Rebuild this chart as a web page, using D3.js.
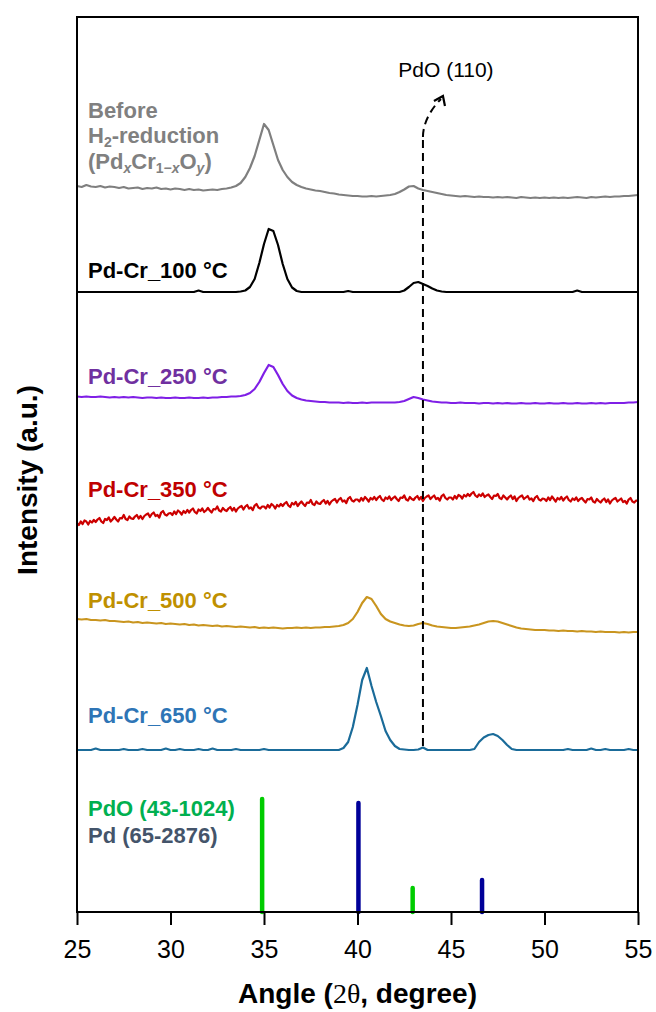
<!DOCTYPE html>
<html>
<head>
<meta charset="utf-8">
<script src="https://cdn.jsdelivr.net/npm/d3@7"></script>
<style>
  body { margin: 0; background: #fff; }
  svg { display: block; }
  text { font-family: Arial, "Liberation Sans", sans-serif; }
</style>
</head>
<body>
<svg id="chart" width="656" height="1012"></svg>
<script>
// 2θ sampling grids (degrees)
const angles = d3.range(0, 121).map(i => 25 + i * 0.25);
const anglesFine = d3.range(0, 301).map(i => 25 + i * 0.1);
const tickAngles = [25, 30, 35, 40, 45, 50, 55];

// Stacked XRD patterns (offset intensities, a.u.), one row per degree
const before = [
  726, 725, 727, 725.5,   725, 726, 724.5, 725.5,   725, 724, 725, 723.5,
  724, 724.5, 723, 724,   723.5, 724.5, 723, 723.5, 722.5, 723.5, 723, 722,
  723, 722, 722.5, 721.5, 722, 722.5, 722, 723,     723.5, 724.5, 726, 729,
  735, 744, 756, 772,     788, 782, 767, 752,       742, 735, 730, 727,
  725, 723.5, 722.5, 721.5, 721, 720, 719, 718.5,   717.5, 717, 716.5, 716,
  716, 715.5, 715.5, 716, 715.5, 716, 716.5, 717,   718, 720, 722.5, 725.5,
  726, 723.5, 722, 721,   720, 719, 718, 717,       716.5, 716, 715.5, 716,
  715.5, 715, 715.5, 715, 715, 714.5, 715, 714.5,   715, 714.5, 714, 715,
  714.5, 714, 714.5, 714, 714.5, 714, 714.5, 714,   714.5, 714, 714.5, 715,
  714.5, 714, 715, 714.5, 715, 715.5, 715, 715.5,   715.5, 716, 716, 716.5,
  717
];
const pdcr100 = [
  620, 620, 620, 620,     620, 620, 620, 620,       620, 620, 620, 620,
  620, 620, 620, 620,     620, 620, 620, 620,       620, 620, 620, 620,
  620, 620, 621.5, 620,   620, 620, 620, 620,       620, 620, 620, 620.5,
  621.5, 625, 633, 649,   668, 683, 681, 667,       648, 633, 624.5, 621,
  620, 620, 620, 620,     620, 620, 620, 620,       620, 620, 621, 620,
  620, 620, 620, 620,     620, 620, 620, 620,       620, 620, 621.5, 625,
  629, 630, 628, 626,     623.5, 621.5, 620.5, 620, 620, 620, 620, 620,
  620, 620, 620, 620,     620, 620, 620, 620,       620, 620, 620, 620,
  620, 620, 620, 620,     620, 620, 620, 620,       620, 620, 620, 621.5,
  620, 620, 620, 620,     620, 620, 620, 620,       620, 620, 620, 620,
  620
];
const pdcr250 = [
  515.5, 515, 515.5, 515, 515, 515.5, 515, 514.5,   515, 514.5, 515, 514.5,
  515, 514.5, 514, 514.5, 514.5, 514, 514.5, 514,   514, 514.5, 514, 514,
  514.5, 514, 514, 514.5, 514, 514.5, 514.5, 515,   515, 515.5, 515.5, 516,
  517, 519, 523, 530,     539, 547, 545, 537,       528, 521, 516.5, 514,
  512.5, 511.5, 511, 510.5, 510, 510, 509.5, 509.5, 509.5, 509, 509.5, 509,
  509, 509.5, 509, 509.5, 509.5, 509.5, 509.5, 509.5, 509.5, 510, 511, 513,
  515, 514, 512.5, 511.5, 510.5, 510, 509.5, 509.5, 509, 509, 509.5, 509,
  509, 509, 508.5, 509,   509, 508.5, 509, 508.5,   509, 508.5, 508.5, 509,
  508.5, 508.5, 509, 508.5, 508.5, 509, 508.5, 508.5, 509, 508.5, 508.5, 509,
  508.5, 508.5, 509, 508.5, 509, 508.5, 509, 509,   509, 509, 509.5, 509.5,
  510
];
const pdcr350 = [
  389, 387, 390.5, 388, 391.5, 390.5, 387.5, 391, 389.5, 392,
  390, 392.5, 394, 390.5, 389, 393, 392, 394.5, 390.5, 392.5,
  395, 392.5, 390.5, 394, 393.5, 397, 393, 392, 395.5, 393.5,
  393, 395.5, 397, 393.5, 396, 393, 396, 397.5, 398.5, 395,
  398, 399.5, 396, 397, 394.5, 399.5, 401, 397.5, 396.5, 398.5,
  399, 397, 400.5, 398, 401.5, 400, 397.5, 401, 399, 402,
  399.5, 402, 403.5, 400, 398.5, 402.5, 401, 403.5, 400, 401.5,
  404, 401.5, 399.5, 403, 402.5, 405.5, 401.5, 400.5, 404, 402,
  401, 403.5, 405, 401.5, 404, 400.5, 403.5, 405, 406, 402.5,
  405.5, 407, 403.5, 404.5, 402, 406.5, 408, 404.5, 403.5, 405.5,
  405.5, 403.5, 407, 404.5, 408, 406.5, 403.5, 407, 405.5, 408,
  406, 408.5, 410, 406.5, 405, 409, 407.5, 410, 406, 408.5,
  410.5, 408, 406, 409.5, 409, 412, 408, 407, 410.5, 408.5,
  408, 410.5, 412, 408.5, 411, 407.5, 410.5, 412, 413, 409.5,
  412.5, 414, 410.5, 411.5, 409, 413.5, 415, 411.5, 410.5, 412.5,
  412.5, 410.5, 414, 411.5, 415, 413, 410.5, 414, 412.5, 415,
  412, 414.5, 416, 412.5, 411, 414.5, 413, 415.5, 412, 414,
  415.5, 413, 411, 414.5, 414, 416.5, 412.5, 411.5, 415, 413,
  412, 414.5, 416, 412.5, 415, 411, 414, 415.5, 416.5, 413,
  415, 416.5, 413, 414, 411.5, 416, 417.5, 414, 412.5, 414.5,
  414.5, 412.5, 416, 413.5, 417, 416, 413.5, 417, 415.5, 418,
  416, 418.5, 420, 416.5, 415, 417.5, 416, 418.5, 415, 416.5,
  417.5, 415, 413, 416.5, 416, 418, 414, 413, 416.5, 414.5,
  412.5, 415, 416.5, 413, 415.5, 411, 414, 415.5, 416.5, 413,
  414.5, 416, 412.5, 413.5, 411, 414.5, 416, 412.5, 411.5, 413.5,
  413, 411, 414.5, 412, 415.5, 413, 410.5, 414, 412.5, 415,
  411.5, 414, 415.5, 412, 410.5, 413.5, 412, 414.5, 411, 413,
  414, 411.5, 409.5, 413, 412.5, 414.5, 410.5, 409.5, 413, 411,
  409.5, 412, 413.5, 410, 412.5, 408.5, 411.5, 413, 414, 410.5,
  412, 413.5, 410, 411, 408.5, 412.5, 414, 410.5, 409.5, 411.5,
  411
];
const pdcr500 = [
  293, 292.5, 293, 292,   292, 291.5, 292, 291,      291, 290.5, 290, 290.5,
  289.5, 290, 289, 289.5, 289, 288.5, 289, 288,     288.5, 288, 287.5, 288,
  287, 287.5, 286.5, 287, 286.5, 286, 286.5, 285.5, 286, 285.5, 285, 285.5,
  285, 284.5, 285, 284,   284.5, 284, 284.5, 284,    283.5, 284, 284, 284.5,
  284, 284.5, 284, 284.5, 284.5, 285, 285, 285.5,   286, 287, 289, 293,
  300, 309, 315, 313,     306, 298, 293, 290.5,      289, 287.5, 286.5, 286,
  286.5, 288, 289, 288,   286.5, 285.5, 285, 284.5,  284, 284, 284.5, 285,
  285.5, 286.5, 287.5, 289, 290.5, 291, 290.5, 289, 287.5, 286, 284.5, 283.5,
  283, 282.5, 282, 282,   282, 281.5, 281.5, 281,    281.5, 281, 281, 280.5,
  281, 280.5, 280.5, 280, 280.5, 280, 280, 280,      279.5, 280, 279.5, 280,
  280
];
const pdcr650 = [
  162, 162, 162, 162,     163.5, 162, 162, 162,      162, 162, 163, 162,
  162, 162, 163, 162,     162, 162, 162, 163.5,      162, 162, 163, 162,
  162, 162, 163, 162,     162, 163.5, 162, 162,      162, 162, 163, 162,
  162, 162, 162, 162,     163, 162, 162, 162,        162, 162, 162, 162,
  162, 162, 162, 162,     162, 162, 162, 162,        162, 164, 170, 185,
  207, 232, 244, 226,     210, 196, 181, 172,        166, 163, 162.5, 162,
  162, 162.5, 164.5, 162, 162, 162, 162, 162,        162, 162, 162, 162,
  162, 163, 170, 174.5,   177, 178, 176, 172,        167, 163, 162, 162,
  162, 162, 162, 162,     162, 162, 162, 162,        162, 163, 162, 162,
  162, 162, 163.5, 162,   162, 163, 162, 162,        162, 162, 163, 162,
  162
];

// Reference patterns (JCPDS cards): positions (2θ) and stick heights (a.u.)
const pdoRefAngles = [34.9, 42.95];
const pdoRefHeights = [113, 24];
const pdRefAngles = [40.05, 46.66];
const pdRefHeights = [109, 32];

// PdO (110) marker
const pdo110Angle = 43.5;
const pdo110Span = [166, 775];

const series = [
  { key: "before", xs: angles, ys: before, color: "#7f7f7f" },
  { key: "100", xs: angles, ys: pdcr100, color: "#000000" },
  { key: "250", xs: angles, ys: pdcr250, color: "#7f1fe6" },
  { key: "350", xs: anglesFine, ys: pdcr350, color: "#cc0000" },
  { key: "500", xs: angles, ys: pdcr500, color: "#c9951f" },
  { key: "650", xs: angles, ys: pdcr650, color: "#1a6b99" }
];

const svg = d3.select("#chart");
const plotL = 77, plotR = 638, plotT = 17, plotB = 912;

const x = d3.scaleLinear().domain([25, 55]).range([plotL, plotR]);
const y = d3.scaleLinear().domain([0, 895]).range([plotB, plotT]);

// Patterns
const line = d3.line().x(d => x(d[0])).y(d => y(d[1]));
series.forEach(s => {
  svg.append("path")
    .datum(s.xs.map((a, i) => [a, s.ys[i]]))
    .attr("d", line)
    .attr("fill", "none")
    .attr("stroke", s.color)
    .attr("stroke-width", 2.2)
    .attr("stroke-linejoin", "round");
});

// Reference sticks
function sticks(as, hs, color) {
  svg.append("g").selectAll("line")
    .data(as.map((a, i) => [a, hs[i]]))
    .join("line")
    .attr("x1", d => x(d[0])).attr("x2", d => x(d[0]))
    .attr("y1", y(0)).attr("y2", d => y(d[1]))
    .attr("stroke", color)
    .attr("stroke-width", 4.5)
    .attr("stroke-linecap", "round");
}
sticks(pdoRefAngles, pdoRefHeights, "#00cc00");
sticks(pdRefAngles, pdRefHeights, "#000099");

// PdO (110) dashed guide and arrow
const xd = x(pdo110Angle);
const yTop = y(pdo110Span[1]);
svg.append("line")
  .attr("x1", xd).attr("x2", xd)
  .attr("y1", y(pdo110Span[0])).attr("y2", yTop)
  .attr("stroke", "#000").attr("stroke-width", 2)
  .attr("stroke-dasharray", "8,5");
svg.append("path")
  .attr("d", `M${xd},${yTop} C${xd},${yTop - 14} ${xd + 8},${yTop - 28} ${xd + 18},${yTop - 38}`)
  .attr("fill", "none").attr("stroke", "#000").attr("stroke-width", 2)
  .attr("stroke-dasharray", "8,5");
svg.append("path")
  .attr("d", `M${xd + 11},${yTop - 36} L${xd + 20},${yTop - 41} L${xd + 22},${yTop - 31}`)
  .attr("fill", "none").attr("stroke", "#000").attr("stroke-width", 2.2)
  .attr("stroke-linejoin", "miter");
svg.append("text")
  .attr("x", xd + 23).attr("y", 77)
  .attr("text-anchor", "middle")
  .attr("font-size", 21)
  .attr("fill", "#000")
  .text("PdO (110)");

// Frame
svg.append("rect")
  .attr("x", plotL).attr("y", plotT)
  .attr("width", plotR - plotL).attr("height", plotB - plotT)
  .attr("fill", "none").attr("stroke", "#000").attr("stroke-width", 2);

// Bottom axis
const xAxis = svg.append("g")
  .attr("transform", `translate(0,${plotB})`)
  .call(d3.axisBottom(x).tickValues(tickAngles).tickSize(13).tickSizeOuter(0).tickFormat(d3.format("d")));
xAxis.select(".domain").remove();
xAxis.selectAll(".tick line").attr("stroke", "#000").attr("stroke-width", 2);
xAxis.selectAll(".tick text")
  .attr("y", 46).attr("dy", 0)
  .attr("font-size", 25)
  .attr("font-family", "Arial, 'Liberation Sans', sans-serif")
  .attr("fill", "#000");

// Axis titles
const xt = svg.append("text")
  .attr("x", (plotL + plotR) / 2).attr("y", 1003)
  .attr("text-anchor", "middle")
  .attr("font-size", 28).attr("font-weight", "bold");
xt.append("tspan").text("Angle (");
xt.append("tspan").attr("font-family", "'Liberation Serif', 'DejaVu Serif', serif")
  .attr("font-weight", "normal").text("2θ");
xt.append("tspan").text(", degree)");

svg.append("text")
  .attr("transform", `translate(37,480) rotate(-90)`)
  .attr("text-anchor", "middle")
  .attr("font-size", 28).attr("font-weight", "bold")
  .text("Intensity (a.u.)");

// Pattern labels
const labelX = 88;
function label(txt, yy, color) {
  svg.append("text")
    .attr("x", labelX).attr("y", yy)
    .attr("font-size", 22).attr("font-weight", "bold")
    .attr("fill", color).text(txt);
}
label("Before", 118, "#808080");
const l2 = svg.append("text").attr("x", labelX).attr("y", 143)
  .attr("font-size", 22).attr("font-weight", "bold").attr("fill", "#808080");
l2.append("tspan").text("H");
l2.append("tspan").attr("font-size", 14).attr("dy", 4).text("2");
l2.append("tspan").attr("dy", -4).text("-reduction");
const l3 = svg.append("text").attr("x", labelX).attr("y", 169)
  .attr("font-size", 22).attr("font-weight", "bold").attr("fill", "#808080");
l3.append("tspan").text("(Pd");
l3.append("tspan").attr("font-size", 14).attr("dy", 4).attr("font-style", "italic").text("x");
l3.append("tspan").attr("dy", -4).text("Cr");
l3.append("tspan").attr("font-size", 14).attr("dy", 4).text("1−");
l3.append("tspan").attr("font-size", 14).attr("font-style", "italic").text("x");
l3.append("tspan").attr("dy", -4).text("O");
l3.append("tspan").attr("font-size", 14).attr("dy", 4).attr("font-style", "italic").text("y");
l3.append("tspan").attr("dy", -4).text(")");

label("Pd-Cr_100 °C", 278, "#000000");
label("Pd-Cr_250 °C", 384, "#7030a0");
label("Pd-Cr_350 °C", 497, "#c00000");
label("Pd-Cr_500 °C", 608, "#bf9000");
label("Pd-Cr_650 °C", 723, "#2e75b6");

// Reference legend
label("PdO (43-1024)", 816, "#00b050");
label("Pd (65-2876)", 843, "#44546a");
</script>
</body>
</html>
